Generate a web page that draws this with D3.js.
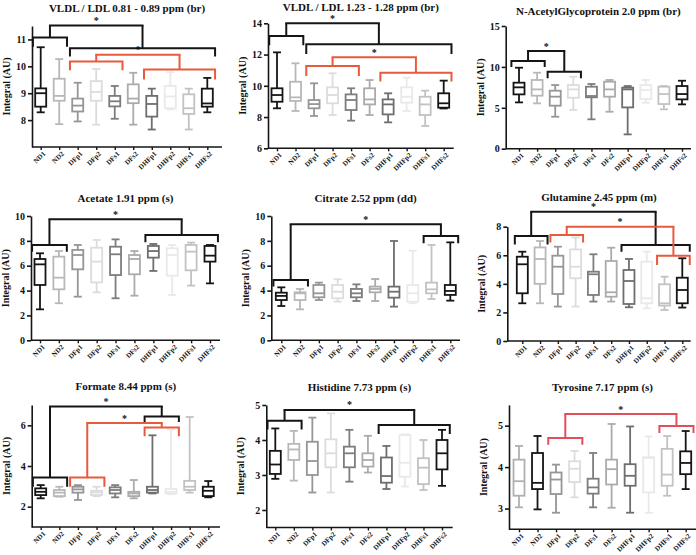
<!DOCTYPE html>
<html><head><meta charset="utf-8">
<script src="https://cdn.jsdelivr.net/npm/d3@7"></script>
<style>
body{margin:0;background:#fff}
svg{display:block}
text{font-family:"Liberation Serif","Times New Roman",serif;font-weight:bold;fill:#111}
</style>
</head><body>
<svg id="chart" width="696" height="555"></svg>
<script>
// ---------------- DATA ----------------
const categories = ["ND1","ND2","DFp1","DFp2","DFs1","DFs2","DHFp1","DHFp2","DHFs1","DHFs2"];

const titles = [
  "VLDL / LDL 0.81 - 0.89 ppm (br)",
  "VLDL / LDL 1.23 - 1.28 ppm (br)",
  "N-AcetylGlycoprotein 2.0 ppm (br)",
  "Acetate 1.91 ppm (s)",
  "Citrate 2.52 ppm (dd)",
  "Glutamine 2.45 ppm (m)",
  "Formate 8.44 ppm (s)",
  "Histidine 7.73 ppm (s)",
  "Tyrosine 7.17 ppm (s)"
];
const yLabel = "Integral (AU)";

// [min, q1, median, q3, max] per category
const vldl081Stats = [
  [8.29,8.50,9.00,9.18,10.71],[7.85,8.72,8.90,9.54,10.27],[7.95,8.32,8.54,8.80,9.39],
  [7.83,8.72,9.05,9.45,9.90],[8.05,8.51,8.70,8.90,9.27],[7.83,8.63,8.80,9.33,9.76],
  [7.65,8.13,8.60,8.90,9.17],[8.40,8.44,8.88,9.27,9.78],[7.65,8.23,8.44,8.96,9.17],
  [8.29,8.50,8.62,9.17,9.57]];
const vldl123Stats = [
  [8.56,8.98,9.41,9.84,12.14],[8.39,9.03,9.26,10.26,11.44],[8.07,8.56,8.83,9.09,10.16],
  [8.13,8.88,9.41,9.90,10.80],[7.77,8.45,9.09,9.45,9.84],[8.13,8.81,9.13,9.84,10.37],
  [7.66,8.17,8.81,9.13,9.52],[8.39,8.92,9.30,9.90,10.52],[7.43,8.13,8.81,9.30,9.69],
  [8.55,8.60,8.88,9.52,10.33]];
const nacetylStats = [
  [5.66,6.64,7.50,8.07,9.90],[5.54,6.48,7.25,8.40,9.29],[3.91,5.26,6.36,7.09,7.78],
  [4.73,6.23,7.25,7.78,8.80],[3.59,6.28,6.44,7.58,7.91],[4.52,6.36,7.25,8.19,8.40],
  [1.75,5.05,7.25,7.46,7.66],[5.62,6.07,7.17,7.78,8.40],[4.81,5.46,6.68,7.58,7.66],
  [5.42,6.03,6.68,7.66,8.31]];
const acetateStats = [
  [2.49,4.45,6.11,6.54,7.00],[2.98,4.10,5.04,6.73,7.18],[3.51,5.71,6.86,7.27,7.67],
  [3.86,4.66,6.33,7.45,8.07],[3.38,5.25,6.92,7.53,8.12],[3.59,5.31,6.54,6.86,7.18],
  [5.58,6.65,7.18,7.59,7.75],[3.65,5.20,6.86,7.40,7.67],[4.40,5.63,7.13,7.67,7.86],
  [4.58,6.33,6.81,7.59,7.67]];
const citrateStats = [
  [2.76,3.24,3.57,3.83,4.26],[2.49,3.24,3.78,3.86,4.13],[3.24,3.46,3.78,4.45,4.64],
  [3.11,3.38,3.91,4.45,4.91],[3.16,3.46,3.78,4.13,4.50],[3.16,3.86,4.13,4.32,4.93],
  [2.71,3.43,3.91,4.32,7.99],[2.98,3.11,3.78,4.45,7.21],[3.32,3.78,4.10,4.64,7.67],
  [3.19,3.65,3.97,4.45,7.88]];
const glutamineStats = [
  [2.64,3.34,5.37,5.90,6.25],[2.64,4.00,5.74,6.55,7.00],[2.41,3.29,5.20,5.97,6.60],
  [2.41,4.39,5.20,6.41,7.25],[2.76,3.22,4.67,4.85,6.07],[2.76,3.10,3.41,5.60,6.53],
  [2.36,2.59,4.20,4.97,5.74],[2.29,2.64,2.99,5.55,6.25],[2.17,2.48,2.64,3.97,4.50],
  [2.34,2.64,3.57,4.43,5.79]];
const formateStats = [
  [2.41,2.57,2.73,2.90,3.06],[2.49,2.52,2.69,2.82,2.98],[2.33,2.69,2.85,2.98,3.06],
  [2.52,2.57,2.70,2.78,2.98],[2.46,2.65,2.82,2.95,3.06],[2.41,2.52,2.65,2.73,3.31],
  [2.65,2.69,2.82,2.98,5.51],[2.62,2.65,2.73,2.87,5.79],[2.69,2.82,2.98,3.27,6.41],
  [2.46,2.52,2.78,2.98,3.26]];
const histidineStats = [
  [2.89,3.03,3.30,3.69,4.33],[2.84,3.43,3.73,3.89,4.26],[2.50,3.00,3.40,3.95,4.64],
  [2.50,3.22,3.62,4.02,4.76],[2.81,3.22,3.62,3.81,4.29],[3.07,3.24,3.43,3.62,4.12],
  [2.60,2.78,2.97,3.50,3.83],[2.67,2.95,3.35,4.14,4.16],[2.57,2.74,3.21,3.48,4.00],
  [2.69,3.16,3.62,4.00,4.29]];
const tyrosineStats = [
  [3.03,3.31,3.66,4.18,4.51],[2.98,3.47,3.62,4.34,4.75],[2.90,3.35,3.70,3.87,4.06],
  [3.27,3.64,3.96,4.14,4.39],[3.03,3.36,3.51,3.72,4.34],[3.02,3.58,3.95,4.18,5.04],
  [2.90,3.55,3.79,4.07,4.98],[2.90,3.39,4.22,4.24,4.74],[3.31,3.55,3.82,4.44,4.75],
  [3.47,3.83,4.10,4.38,4.87]];

// y-axis domains and tick labels
const vldl081Domain = [7, 11.5],  vldl081Ticks = [8, 9, 10, 11];
const vldl123Domain = [6, 14],    vldl123Ticks = [6, 8, 10, 12, 14];
const nacetylDomain = [0, 15],    nacetylTicks = [0, 5, 10, 15];
const acetateDomain = [0, 10],    acetateTicks = [0, 2, 4, 6, 8, 10];
const citrateDomain = [0, 10],    citrateTicks = [0, 2, 4, 6, 8, 10];
const glutamineDomain = [0, 8],   glutamineTicks = [0, 2, 4, 6, 8];
const formateDomain = [1, 7],     formateTicks = [2, 4, 6];
const histidineDomain = [1.5, 5], histidineTicks = [2, 3, 4, 5];
const tyrosineDomain = [2.5, 5.5],tyrosineTicks = [3, 4, 5];

// significance brackets: groups = [firstIdx, lastIdx, barValue, legEndValue]; top = connector value
const vldl081Brackets = [
  {kind:"k", top:11.52, groups:[[0,1,11.07,10.73],[2,9,10.67,10.37]]},
  {kind:"o", top:10.43, groups:[[2,4,10.18,9.85],[6,9,9.88,9.51]]}];
const vldl123Brackets = [
  {kind:"k", top:14.0, groups:[[0,1,13.19,12.6],[2,9,12.66,12.04]]},
  {kind:"o", top:11.82, groups:[[2,4,11.27,10.63],[6,9,10.84,10.27]]}];
const nacetylBrackets = [
  {kind:"k", top:11.94, groups:[[0,1,10.72,10.0],[2,3,9.42,8.6]]}];
const acetateBrackets = [
  {kind:"k", top:9.73, groups:[[0,1,7.67,7.13],[6,9,8.47,7.88]]}];
const citrateBrackets = [
  {kind:"k", top:9.33, groups:[[0,1,4.85,4.32],[8,9,8.39,7.8]]}];
const glutamineBrackets = [
  {kind:"k", top:9.05, groups:[[0,1,7.35,6.76],[6,9,6.72,6.25]]},
  {kind:"o", top:8.0, groups:[[2,3,7.42,6.9],[8,9,5.97,5.32]]}];
const formateBrackets = [
  {kind:"k", top:6.93, groups:[[0,1,3.44,2.98],[6,7,6.44,6.16]]},
  {kind:"o", top:6.11, groups:[[2,3,3.44,2.98],[6,7,5.89,5.46]]}];
const histidineBrackets = [
  {kind:"k", top:4.86, groups:[[0,1,4.55,4.3],[6,9,4.43,4.17]]}];
const tyrosineBrackets = [
  {kind:"r", top:5.28, groups:[[2,3,4.7,4.54],[8,9,4.99,4.82]]}];

// ---------------- STYLE / LAYOUT ----------------
const boxColors = ["#151515","#b8b8b8","#969696","#dcdcdc","#7d7d7d","#ababab","#6e6e6e","#e9e9e9","#c2c2c2","#151515"];
const tyrosineColors = ["#b0b0b0","#151515","#969696","#dcdcdc","#7d7d7d","#ababab","#6e6e6e","#e9e9e9","#c2c2c2","#151515"];
const bracketColors = {k:"#151515", o:"#e95a3c", r:"#e0505a"};

const charts = [
  {stats:vldl081Stats, domain:vldl081Domain, ticks:vldl081Ticks, brackets:vldl081Brackets, colors:boxColors},
  {stats:vldl123Stats, domain:vldl123Domain, ticks:vldl123Ticks, brackets:vldl123Brackets, colors:boxColors},
  {stats:nacetylStats, domain:nacetylDomain, ticks:nacetylTicks, brackets:nacetylBrackets, colors:boxColors},
  {stats:acetateStats, domain:acetateDomain, ticks:acetateTicks, brackets:acetateBrackets, colors:boxColors},
  {stats:citrateStats, domain:citrateDomain, ticks:citrateTicks, brackets:citrateBrackets, colors:boxColors},
  {stats:glutamineStats, domain:glutamineDomain, ticks:glutamineTicks, brackets:glutamineBrackets, colors:boxColors},
  {stats:formateStats, domain:formateDomain, ticks:formateTicks, brackets:formateBrackets, colors:boxColors},
  {stats:histidineStats, domain:histidineDomain, ticks:histidineTicks, brackets:histidineBrackets, colors:boxColors},
  {stats:tyrosineStats, domain:tyrosineDomain, ticks:tyrosineTicks, brackets:tyrosineBrackets, colors:tyrosineColors}
];

const layout = [
  {ax:32,    x0:40.7,  x9:207.3, xEnd:222,   yTop:26,    yBot:147,   titleY:12},
  {ax:268,   x0:277,   x9:443.7, xEnd:453.7, yTop:23.3,  yBot:148.3, titleY:11},
  {ax:505.7, x0:519,   x9:682,   xEnd:691,   yTop:26,    yBot:148.7, titleY:15},
  {ax:31,    x0:40,    x9:210,   xEnd:220,   yTop:216,   yBot:340.3, titleY:202},
  {ax:271.3, x0:281.3, x9:450.3, xEnd:460,   yTop:216,   yBot:340.3, titleY:202},
  {ax:507.3, x0:522.3, x9:682.3, xEnd:690.7, yTop:226.7, yBot:341,   titleY:200.5},
  {ax:31.7,  x0:40.7,  x9:208.3, xEnd:220,   yTop:405,   yBot:527,   titleY:389.5},
  {ax:266.3, x0:275.3, x9:442,   xEnd:452.7, yTop:405,   yBot:527.5, titleY:390.5},
  {ax:509,   x0:519,   x9:685.7, xEnd:696,   yTop:404.9, yBot:529.3, titleY:390.5}
];

// ---------------- DRAW ----------------
const svg = d3.select("#chart");
const BOX_W = 11, CAP_W = 8, SW = 1.8;

charts.forEach((c, pi) => {
  const L = layout[pi];
  const g = svg.append("g");
  const x = d3.scalePoint().domain(categories).range([L.x0, L.x9]);
  const y = d3.scaleLinear().domain(c.domain).range([L.yBot, L.yTop]);
  const step = x.step();

  // title
  g.append("text").attr("x", (L.ax + L.xEnd) / 2).attr("y", L.titleY)
    .attr("text-anchor", "middle").attr("font-size", 11).text(titles[pi]);

  // y label
  g.append("text")
    .attr("transform", `translate(${L.ax - 22},${(L.yTop + L.yBot) / 2}) rotate(-90)`)
    .attr("text-anchor", "middle").attr("font-size", 10).text(yLabel);

  // y axis
  const ya = g.append("g").attr("transform", `translate(${L.ax},0)`)
    .call(d3.axisLeft(y).tickValues(c.ticks).tickSize(4).tickSizeOuter(0).tickPadding(2).tickFormat(d3.format("d")));
  ya.select(".domain").attr("stroke", "#151515").attr("stroke-width", 1.6);
  ya.selectAll(".tick line").attr("stroke", "#151515").attr("stroke-width", 1.6);
  ya.selectAll(".tick text").attr("font-size", 10)
    .style("font-family", '"Liberation Serif","Times New Roman",serif').style("font-weight", "bold").attr("fill", "#111");

  // x axis
  const xa = g.append("g").attr("transform", `translate(0,${L.yBot})`)
    .call(d3.axisBottom(x).tickSize(3).tickSizeOuter(0));
  xa.select(".domain").remove();
  xa.insert("line", ":first-child").attr("x1", L.ax).attr("x2", L.xEnd)
    .attr("stroke", "#151515").attr("stroke-width", 1.6);
  xa.selectAll(".tick line").attr("stroke", "#151515").attr("stroke-width", 1.4);
  xa.selectAll(".tick text")
    .attr("x", 0).attr("y", 0).attr("dy", "0.35em")
    .attr("transform", "translate(3,5.5) rotate(-45)")
    .attr("text-anchor", "end").attr("font-size", 7)
    .style("font-family", '"Liberation Serif","Times New Roman",serif').style("font-weight", "bold").attr("fill", "#111");

  // boxes
  const boxes = g.append("g").selectAll("g").data(c.stats).join("g")
    .attr("stroke", (d, i) => c.colors[i]).attr("stroke-width", SW).attr("fill", "none");
  boxes.each(function(d, i) {
    const b = d3.select(this);
    const cx = x(categories[i]);
    const [mn, q1, md, q3, mx] = d;
    b.append("line").attr("x1", cx).attr("x2", cx).attr("y1", y(mx)).attr("y2", y(q3));
    b.append("line").attr("x1", cx).attr("x2", cx).attr("y1", y(q1)).attr("y2", y(mn));
    b.append("line").attr("x1", cx - CAP_W / 2).attr("x2", cx + CAP_W / 2).attr("y1", y(mx)).attr("y2", y(mx));
    b.append("line").attr("x1", cx - CAP_W / 2).attr("x2", cx + CAP_W / 2).attr("y1", y(mn)).attr("y2", y(mn));
    b.append("rect").attr("x", cx - BOX_W / 2).attr("width", BOX_W)
      .attr("y", y(q3)).attr("height", Math.max(0.5, y(q1) - y(q3))).attr("fill", "#fff");
    b.append("line").attr("x1", cx - BOX_W / 2).attr("x2", cx + BOX_W / 2).attr("y1", y(md)).attr("y2", y(md));
  });

  // brackets
  c.brackets.forEach(br => {
    const col = bracketColors[br.kind];
    const bg = g.append("g").attr("stroke", col).attr("stroke-width", 2).attr("fill", "none");
    const centers = br.groups.map(([a, b, lv, leg]) => {
      const xl = x(categories[a]) - 0.42 * step, xr = x(categories[b]) + 0.42 * step;
      bg.append("path").attr("d", `M${xl},${y(leg)}V${y(lv)}H${xr}V${y(leg)}`);
      const cx = (xl + xr) / 2;
      bg.append("line").attr("x1", cx).attr("x2", cx).attr("y1", y(lv)).attr("y2", y(br.top));
      return cx;
    });
    bg.append("line").attr("x1", centers[0]).attr("x2", centers[1]).attr("y1", y(br.top)).attr("y2", y(br.top))
      .attr("stroke-linecap", "square");
    g.append("text").attr("x", (centers[0] + centers[1]) / 2).attr("y", y(br.top) - 1.5)
      .attr("text-anchor", "middle").attr("font-size", 10).text("*");
  });
});
</script>
</body></html>
